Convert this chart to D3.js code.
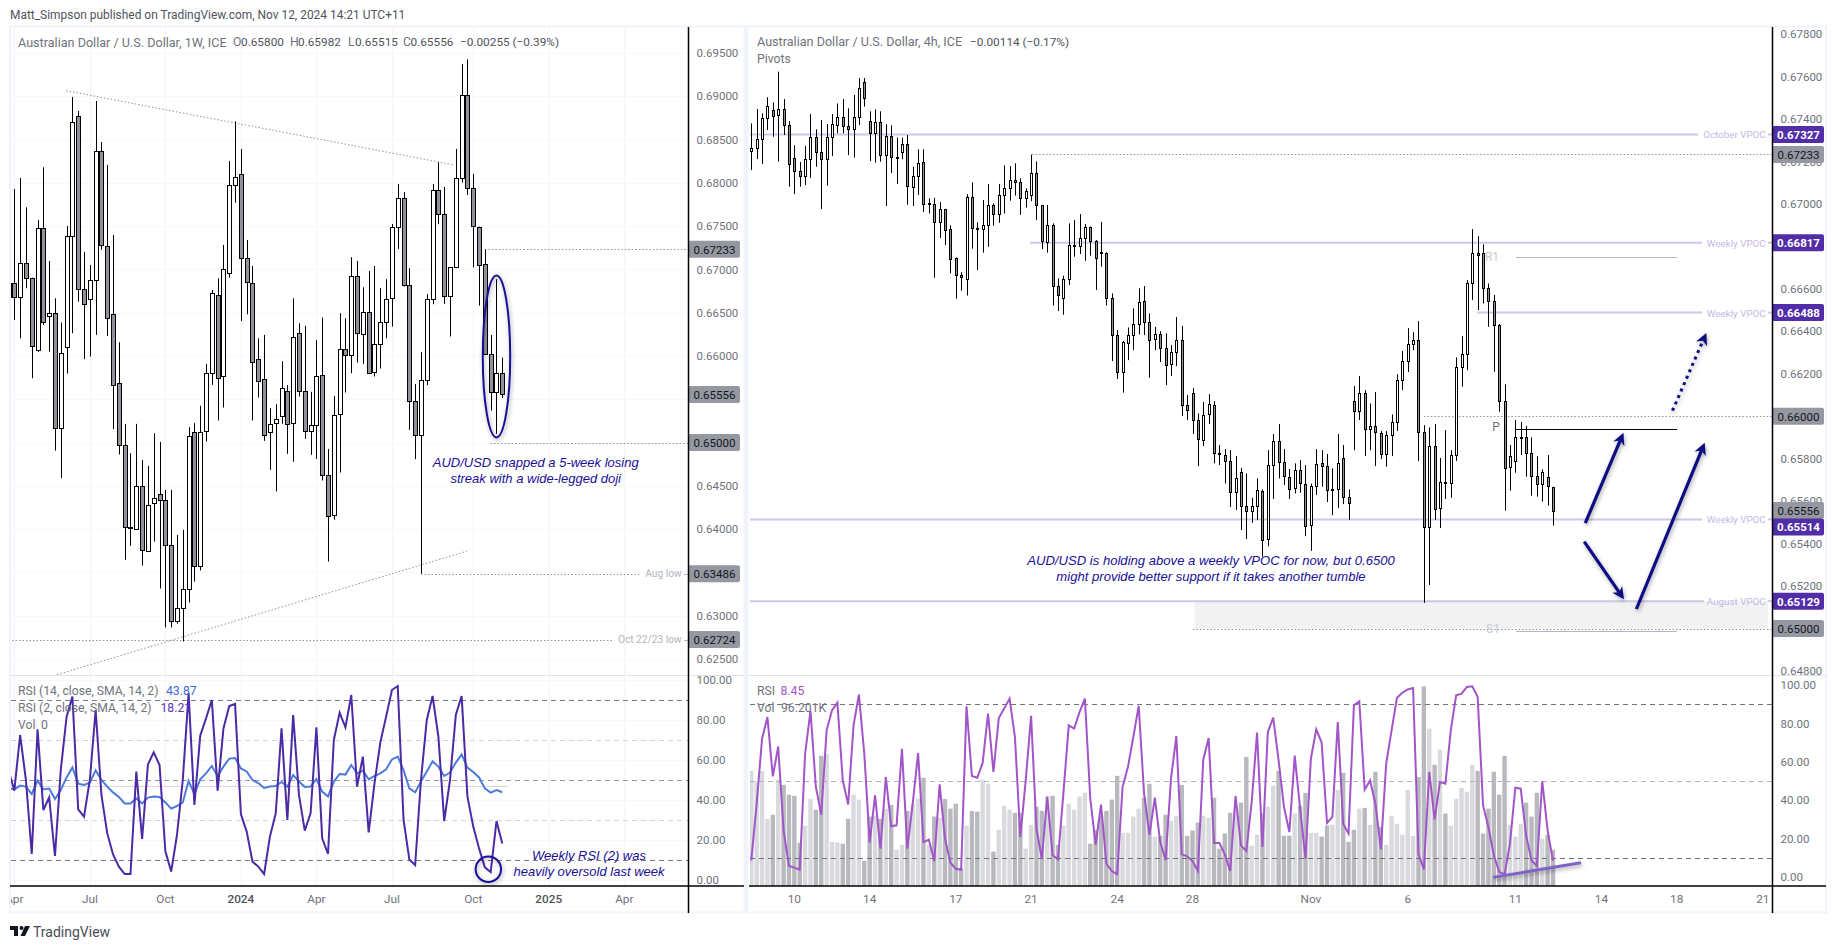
<!DOCTYPE html>
<html><head><meta charset="utf-8">
<style>html,body{margin:0;padding:0;background:#fff;overflow:hidden}svg{display:block}</style>
<script src="https://cdnjs.cloudflare.com/ajax/libs/d3/7.8.5/d3.min.js"></script>
</head><body><svg id="c" width="1838" height="949"></svg>
<script>
// ---- Weekly AUD/USD candles
const wOpen=[.66679,.66840,.66679,.67071,.66898,.66063,.67475,.66455,.66494,.65166,.66097,.67379,.68769,.66771,.66656,.66875,.68365,.67268,.66482,.65686,.64970,.64023,.64000,.64496,.63746,.64312,.64404,.64335,.63815,.62937,.63088,.63307,.65120,.63572,.65131,.65813,.66702,.65767,.66956,.67984,.68099,.67129,.66840,.65963,.65732,.65120,.65224,.65305,.65593,.65224,.66263,.65593,.65131,.65201,.65778,.64623,.64162,.65328,.66078,.66009,.66921,.66263,.66513,.65813,.66136,.66390,.66667,.67487,.67822,.66817,.65478,.65085,.65720,.66656,.67914,.67637,.66690,.67025,.68053,.69011,.67937,.67495,.67060,.66020,.65582,.65800];
const wHigh=[.66840,.67930,.68057,.67718,.66906,.67572,.68180,.67098,.66667,.66386,.67502,.68992,.68830,.67202,.67052,.68946,.68472,.68207,.67398,.66159,.65216,.64877,.65216,.64800,.64731,.65108,.65008,.64454,.64454,.63934,.63992,.65178,.65224,.65424,.65909,.66763,.66898,.67283,.68253,.68711,.68392,.67341,.67040,.66205,.66244,.65397,.65443,.65940,.65663,.66667,.66378,.66348,.65586,.66186,.66444,.64927,.65539,.66494,.66436,.67141,.67098,.66794,.66983,.67040,.66783,.66887,.67525,.67987,.67895,.67014,.65678,.66044,.66717,.67987,.68238,.67953,.67025,.68392,.69373,.69427,.68103,.67495,.67233,.66244,.66887,.65982];
const wLow=[.66444,.66417,.66205,.66783,.65743,.66047,.66359,.66051,.64908,.64589,.65797,.66263,.66629,.65963,.65994,.66244,.67225,.66232,.65155,.64862,.63646,.63807,.63992,.63580,.63738,.63857,.63315,.62864,.62864,.62907,.62703,.63153,.63395,.63523,.65012,.65666,.65255,.65405,.66906,.67772,.66405,.66482,.65255,.65520,.65020,.64685,.64435,.65216,.64870,.64777,.65532,.65043,.64858,.64812,.64562,.63626,.64108,.64654,.65578,.65801,.65924,.65909,.65797,.65763,.65855,.66205,.66340,.67237,.66802,.65147,.64808,.63486,.65663,.66598,.67522,.66602,.66225,.67014,.68003,.67860,.67025,.66582,.66020,.65370,.65101,.65515];
const wClose=[.66840,.66679,.67071,.66894,.66109,.67475,.66390,.66494,.65166,.66032,.67383,.68699,.66771,.66598,.66875,.68365,.67275,.66436,.65663,.64970,.64023,.64008,.64496,.63757,.64277,.64365,.64335,.63815,.62937,.63088,.63307,.65074,.63572,.65120,.65801,.66732,.65743,.67002,.67972,.68072,.67129,.66852,.65928,.65709,.65085,.65212,.65270,.65628,.65212,.66217,.65593,.65131,.65201,.65767,.64623,.64150,.65316,.66078,.66009,.66921,.66263,.66513,.65813,.66136,.66390,.66656,.67487,.67822,.66817,.65478,.65085,.65720,.66656,.67914,.67637,.66690,.67025,.68053,.69011,.67937,.67495,.67060,.66020,.65582,.65801,.65556];
// ---- Weekly RSI(2) and RSI(14)
const rsi2=[55,44.7,72.5,50,13,75.3,35,41.3,12,55,81.7,91.7,35.3,31.7,50,85,42.5,23.3,12.8,6.7,3,3,54.2,20.5,57.8,63.8,57.5,14.5,4.2,22.5,50,93.3,37.5,72.2,80.8,90,44.7,75.8,87,88,33,24.2,9.2,6.7,3,21.7,33.3,75.8,30,82.5,42.5,24.7,33.3,76.3,20.8,13,70,83.7,76.3,92.5,46.7,61.7,23.8,48.3,68.7,81.7,95,97,30,10.3,7.5,50,80,92,71.7,29.5,50,82.5,92,41.7,26.7,15.8,6.3,4,29.5,18.21];
const rsi14=[45.8,45.3,47.2,46.7,43,49.7,45.3,45.7,40.5,45,51.3,56.3,48.2,47.5,48.7,54.8,50,46.7,43.8,41.5,38.3,38.3,40.8,38.3,41.2,41.8,41.5,38.8,35.7,37,38.8,49.5,43,50.3,53.3,57,52,56.7,60.7,61,55.8,54.3,50,48.5,46,46.7,47,49,46.7,52.5,49.2,46.5,46.7,50.5,44.2,41.7,49.2,53,52.7,57.5,53.3,54.7,50.3,52,53.3,55.3,60.3,61.7,55,45.8,43.8,49.2,54.2,59.3,56.7,52,53.7,58.7,62.7,56.2,54,51.3,45.8,43.7,45,43.87];
const weekTickBars=[1,14,27,40,53,66,80,93,106];
const weekTickLabels=["Apr","Jul","Oct","2024","Apr","Jul","Oct","2025","Apr"];
const weekPriceTicks=[.695,.69,.685,.68,.675,.67,.665,.66,.655,.65,.645,.64,.635,.63,.625];
const weekPriceCovered=[.655,.65,.635];
const weekTags=[.67233,.65556,.65,.63486,.62724];
const rsiTicks=[0,20,40,60,80,100];

// ---- 4h AUD/USD candles
const hOpen=[.67246,.67260,.67304,.67403,.67442,.67415,.67445,.67370,.67214,.67153,.67128,.67210,.67313,.67243,.67210,.67313,.67370,.67408,.67365,.67351,.67408,.67572,.67389,.67331,.67384,.67229,.67318,.67217,.67243,.67280,.67078,.67131,.67196,.66999,.66998,.66913,.66974,.66880,.66743,.66663,.66645,.67031,.66886,.66880,.66899,.66993,.66949,.67040,.67073,.67111,.67101,.67026,.67039,.67144,.66993,.66819,.66899,.66612,.66555,.66645,.66802,.66798,.66838,.66889,.66824,.66772,.66767,.66555,.66381,.66209,.66348,.66381,.66432,.66541,.66442,.66362,.66385,.66319,.66244,.66301,.66357,.66051,.66107,.65980,.65891,.66008,.66051,.65825,.65815,.65787,.65641,.65735,.65575,.65552,.65575,.65647,.65418,.65768,.65881,.65782,.65716,.65660,.65745,.65683,.65484,.65669,.65778,.65764,.65652,.65655,.65801,.65618,.66070,.66023,.66107,.65938,.65952,.65919,.65820,.65910,.65971,.66169,.66258,.66338,.66357,.65924,.65475,.65858,.65566,.65688,.65683,.65815,.66230,.66291,.66625,.66767,.66767,.66602,.66541,.66430,.66073,.65759,.65786,.65899,.65901,.65825,.65717,.65679,.65712,.65667];
const hHigh=[.67379,.67447,.67426,.67502,.67478,.67623,.67494,.67390,.67276,.67197,.67273,.67423,.67351,.67395,.67376,.67423,.67473,.67494,.67450,.67513,.67593,.67593,.67436,.67445,.67436,.67375,.67370,.67313,.67312,.67324,.67175,.67257,.67257,.67026,.67029,.67009,.66976,.66899,.66748,.66678,.67046,.67101,.66913,.67018,.67094,.67002,.67094,.67181,.67178,.67191,.67120,.67073,.67232,.67200,.66993,.66995,.66908,.66649,.66662,.66908,.66924,.66952,.66905,.66893,.66830,.66915,.66772,.66578,.66406,.66355,.66418,.66508,.66602,.66613,.66484,.66421,.66401,.66390,.66335,.66467,.66425,.66100,.66133,.66013,.66067,.66104,.66071,.65864,.65845,.65840,.65812,.65757,.65731,.65616,.65707,.65655,.65840,.65916,.65963,.65845,.65751,.65778,.65793,.65770,.65683,.65845,.65840,.65822,.65754,.65916,.65864,.65655,.66142,.66189,.66123,.66060,.66114,.65930,.65930,.66008,.66198,.66307,.66415,.66396,.66448,.65958,.65947,.65963,.65803,.65935,.65840,.66277,.66377,.66641,.66881,.66848,.66809,.66625,.66571,.66434,.66150,.65864,.65982,.65973,.65954,.65901,.65811,.65750,.65817,.65668];
const hLow=[.67159,.67211,.67188,.67348,.67316,.67199,.67324,.67081,.67046,.67081,.67089,.67122,.67175,.66976,.67086,.67225,.67332,.67332,.67230,.67218,.67371,.67458,.67202,.67194,.67199,.66990,.67145,.67094,.67210,.66996,.66990,.67042,.66962,.66955,.66652,.66839,.66806,.66673,.66553,.66591,.66568,.66789,.66688,.66770,.66798,.66897,.66911,.66955,.67015,.67039,.66948,.66982,.67013,.66924,.66787,.66770,.66521,.66495,.66478,.66618,.66751,.66764,.66732,.66756,.66594,.66704,.66521,.66260,.66175,.66111,.66264,.66311,.66385,.66382,.66181,.66311,.66255,.66147,.66189,.66236,.66001,.65982,.65916,.65765,.65859,.65963,.65778,.65770,.65683,.65572,.65558,.65464,.65421,.65498,.65511,.65338,.65388,.65610,.65707,.65676,.65610,.65636,.65640,.65435,.65366,.65629,.65668,.65596,.65534,.65567,.65586,.65511,.65840,.65982,.65812,.65840,.65765,.65798,.65762,.65812,.65930,.66123,.66208,.66311,.65789,.65121,.65205,.65511,.65473,.65610,.65616,.65789,.66139,.66217,.66547,.66500,.66531,.66421,.66209,.66021,.65555,.65649,.65734,.65817,.65715,.65626,.65621,.65598,.65579,.65485];
const hClose=[.67262,.67304,.67403,.67459,.67415,.67445,.67368,.67186,.67153,.67128,.67210,.67313,.67243,.67210,.67313,.67375,.67408,.67364,.67351,.67408,.67544,.67497,.67331,.67384,.67229,.67318,.67219,.67220,.67280,.67083,.67131,.67191,.66998,.67002,.66913,.66974,.66875,.66739,.66663,.66654,.67031,.66883,.66883,.66899,.66993,.66951,.67040,.67073,.67111,.67101,.67026,.67059,.67144,.66992,.66824,.66899,.66612,.66569,.66645,.66805,.66805,.66838,.66889,.66824,.66742,.66767,.66555,.66381,.66209,.66348,.66384,.66432,.66536,.66442,.66357,.66385,.66319,.66239,.66301,.66357,.66051,.66027,.65980,.65891,.66008,.66056,.65825,.65822,.65787,.65640,.65707,.65575,.65552,.65575,.65651,.65418,.65768,.65881,.65782,.65716,.65660,.65745,.65683,.65484,.65669,.65773,.65764,.65651,.65655,.65778,.65618,.65589,.66023,.66107,.65938,.65952,.65924,.65820,.65910,.65971,.66169,.66258,.66338,.66357,.65924,.65475,.65858,.65561,.65688,.65685,.65815,.66230,.66291,.66625,.66767,.66757,.66602,.66539,.66428,.66073,.65759,.65811,.65901,.65904,.65825,.65717,.65679,.65736,.65670,.65556];
// ---- 4h RSI and volume (thousands)
const hRsi=[8.7,38.2,72,83.3,52.4,68,24.3,5.7,4.9,3.8,64.2,86.5,46.9,32.5,76.4,86.8,90.8,50.3,37.8,79,95,64.2,17.9,42.5,14.8,52.1,26.4,26.9,66.8,14.8,38.2,64.6,18.2,19.4,8.3,48.3,20,7.5,4.3,3.8,88.9,52.6,51.7,59.4,85.1,54.7,82.8,87.7,92.9,72.9,20.8,50.3,83.9,25.2,9.5,41.7,11.3,9.2,43.4,79,77.3,85.9,92.9,40.8,16.8,37.7,6.9,3.1,1.4,46.9,57.3,72.9,89.1,43.4,22,41.3,18.2,8.7,51.2,73.4,11.8,10.8,8.3,3.1,61.1,72.4,17.7,17.7,11.8,3.1,42.2,16.5,13.4,39.1,75.2,15.6,75.5,83,60.8,36.5,23.4,63.2,35.6,9.5,61.6,76.9,70,28.1,31.3,80.7,27.8,22.6,89.4,91.5,45.5,50.3,38.2,14.4,59,76.4,93.4,96,97.7,98.4,11.8,4,54.7,30,49.5,48.6,76.4,94.6,95.5,99,99.3,93.8,37.3,26,11.3,2.6,1.4,17.4,46.5,46,21.7,8.7,5.7,50,24.3,8.45];
const hVol=[305,276,305,178,189,282,268,242,239,115,160,231,202,345,350,117,115,112,178,242,229,67,184,186,178,205,215,96,109,199,218,231,287,109,184,181,231,205,218,48,160,199,197,282,271,91,149,213,202,194,194,99,162,210,199,239,239,109,160,218,202,237,247,112,149,186,199,229,292,141,141,184,205,234,271,131,133,189,173,186,268,133,147,168,186,181,234,99,139,194,205,221,342,107,136,193,210,266,305,133,133,192,213,247,141,141,131,160,162,255,300,117,149,205,207,162,303,157,109,186,165,136,255,133,289,529,417,321,361,192,160,231,260,250,321,305,139,205,303,242,345,162,131,165,221,184,247,125,136,96.2];
const hTickBars=[8,22,38,52,68,82,104,122,142,158,172,188];
const hTickLabels=["10","14","17","21","24","28","Nov","6","11","14","18","21"];
const hPriceTicks=[.678,.676,.674,.672,.67,.668,.666,.664,.662,.66,.658,.656,.654,.652,.65,.648];
const hPriceCovered=[.668,.66,.65];
// ---- VPOC levels, dotted levels and pivots
const vpocPrices=[.67327,.66817,.66488,.65514,.65129];
const vpocNames=["October VPOC","Weekly VPOC","Weekly VPOC","Weekly VPOC","August VPOC"];
const vpocStartBars=[-1,51.8,134.9,-1,-1];
const dottedPrices=[.67233,.66,.65];
const dottedStartBars=[52.2,125,82.1];
const pivotNames=["R1","P","S1"];
const pivotPrices=[.66752,.65938,.6499];

const svg=d3.select("#c");
const FONT="Roboto, sans-serif", ANNO="'Liberation Sans', Arial, sans-serif";
const GREY="#6f727c", NAVY="#1a0f96";
const defs=svg.append("defs");
const f=defs.append("filter").attr("id","sh").attr("x","-30%").attr("y","-30%").attr("width","160%").attr("height","160%");
f.append("feDropShadow").attr("dx",1).attr("dy",2).attr("stdDeviation",2).attr("flood-color","#000").attr("flood-opacity",.35);
function clip(id,x,y,w,h){defs.append("clipPath").attr("id",id).append("rect").attr("x",x).attr("y",y).attr("width",w).attr("height",h);}
clip("cL",11,28,677,647); clip("cLr",11,676,677,210); clip("cR",750,28,1022,647); clip("cRr",750,676,1022,210); clip("cLa",11,886,677,26);

function txt(p,x,y,s,o={}){return p.append("text").attr("x",x).attr("y",y).attr("dominant-baseline","central")
  .attr("font-family",o.ff||FONT).attr("font-size",o.fs||12).attr("fill",o.c||GREY).attr("font-weight",o.w||400)
  .attr("font-style",o.st||"normal").attr("text-anchor",o.a||"start").text(s);}
function crisp(v){return Math.round(v)+.5;}

// scales
const xW=d3.scaleLinear().domain([0,85]).range([8.5,502.3]);
const yW=d3.scaleLinear().domain([.625,.695]).range([659,53]);
const yWr=d3.scaleLinear().domain([0,100]).range([880,680]);
const xH=d3.scaleLinear().domain([0,149]).range([751.3,1553]);
const yH=d3.scaleLinear().domain([.648,.678]).range([671,34]);
const yHr=d3.scaleLinear().domain([0,100]).range([877,685]);
const yV=d3.scaleLinear().domain([0,96.2]).range([886,849.7]);

// page text + frame
txt(svg,10,15,"Matt_Simpson published on TradingView.com, Nov 12, 2024 14:21 UTC+11",{c:"#50535e",fs:11.95});
const frame=svg.append("g").attr("fill","none").attr("stroke","#f0f3fa");
frame.append("rect").attr("x",10).attr("y",26.5).attr("width",1816).attr("height",886).attr("stroke-width",2);
frame.append("line").attr("x1",746).attr("x2",746).attr("y1",27).attr("y2",913).attr("stroke-width",5);
[[10,744],[749,1826]].forEach(([a,b])=>svg.append("line").attr("x1",a).attr("x2",b).attr("y1",675.5).attr("y2",675.5).attr("stroke","#e0e3eb"));

// left gridlines
const gridL=svg.append("g").attr("stroke","#f3f4f7");
gridL.selectAll("line.v").data(weekTickBars).join("line").attr("x1",d=>crisp(xW(d))).attr("x2",d=>crisp(xW(d))).attr("y1",28).attr("y2",886);
gridL.selectAll("line.h").data(weekPriceTicks).join("line").attr("x1",11).attr("x2",688).attr("y1",d=>crisp(yW(d))).attr("y2",d=>crisp(yW(d))).attr("stroke","#f8f8fa");

function candles(g,x,y,O,H,L,C,bw){
  const I=d3.range(O.length);
  g.append("g").attr("stroke","#000").selectAll("line").data(I).join("line")
    .attr("x1",i=>crisp(x(i))).attr("x2",i=>crisp(x(i))).attr("y1",i=>y(H[i])).attr("y2",i=>y(L[i]));
  g.append("g").attr("stroke","#000").selectAll("rect").data(I).join("rect")
    .attr("x",i=>crisp(x(i))-bw/2).attr("width",bw)
    .attr("y",i=>Math.round(y(Math.max(O[i],C[i])))+.5)
    .attr("height",i=>Math.max(1,Math.round(Math.abs(y(O[i])-y(C[i])))))
    .attr("fill",i=>C[i]>=O[i]?"#fff":"#8f929b");
}

// ========== LEFT PANE ==========
const L=svg.append("g").attr("clip-path","url(#cL)");
const dot={stroke:"#8f929b","stroke-dasharray":"1.5 2","stroke-width":1};
function styl(s,o){Object.entries(o).forEach(([k,v])=>s.attr(k,v));return s;}
// trend lines (bar index, price)
const trendTop=[[9.9,.69065],[76.7,.68207]], trendLow=[[8.35,.62318],[78.9,.63746]];
[trendTop,trendLow].forEach(t=>styl(L.append("line").attr("x1",xW(t[0][0])).attr("y1",yW(t[0][1])).attr("x2",xW(t[1][0])).attr("y2",yW(t[1][1])),dot));
// dotted levels
[[82,.67233,688],[83,.65,688],[71,.63486,641],[0,.62724,614]].forEach(([b,p,e])=>
  styl(L.append("line").attr("x1",xW(b)).attr("x2",e).attr("y1",crisp(yW(p))).attr("y2",crisp(yW(p))),dot));
candles(L,xW,yW,wOpen,wHigh,wLow,wClose,4);
txt(L,681.7,yW(.63486),"Aug low",{a:"end",c:"#b2b5be",fs:10.2});
txt(L,681.7,yW(.62724),"Oct 22/23 low",{a:"end",c:"#b2b5be",fs:10.2});
[.63486,.62724].forEach(p=>L.append("line").attr("x1",684).attr("x2",688).attr("y1",crisp(yW(p))).attr("y2",crisp(yW(p))).attr("stroke","#b2b5be"));
// ellipse
const eX=84, eP=.65995, eRb=2.36, eRp=.00935;
L.append("ellipse").attr("cx",xW(eX)).attr("cy",yW(eP)).attr("rx",xW(eRb)-xW(0)).attr("ry",yW(eP-eRp)-yW(eP))
  .attr("fill","none").attr("stroke",NAVY).attr("stroke-width",2).attr("filter","url(#sh)");
txt(L,535.7,462.5,"AUD/USD snapped a 5-week losing",{ff:ANNO,st:"italic",c:NAVY,fs:13,a:"middle"});
txt(L,535.7,478.5,"streak with a wide-legged doji",{ff:ANNO,st:"italic",c:NAVY,fs:13,a:"middle"});
// legend
txt(svg,18,42,"Australian Dollar / U.S. Dollar, 1W, ICE",{fs:12.6});
[[233,"O"],[290,"H"],[348,"L"],[403,"C"]].forEach(([x,s])=>txt(svg,x,42,s,{fs:12.2}));
[[241,"0.65800"],[298,"0.65982"],[355,"0.65515"],[410.5,"0.65556"],[460,"−0.00255 (−0.39%)"]].forEach(([x,s])=>txt(svg,x,42,s,{fs:11.8,c:"#50535e"}));

// left RSI pane
const LR=svg.append("g").attr("clip-path","url(#cLr)");
function levels(g,y,vals,cols,a,b){g.selectAll("line.l").data(vals).join("line").attr("x1",a).attr("x2",b)
  .attr("y1",d=>crisp(y(d))).attr("y2",d=>crisp(y(d))).attr("stroke",(d,i)=>cols[i]).attr("stroke-dasharray","5 4");}
gridL.selectAll("line.r").data(rsiTicks).join("line").attr("x1",11).attr("x2",688).attr("y1",d=>crisp(yWr(d))).attr("y2",d=>crisp(yWr(d))).attr("stroke","#f8f8fa");
levels(LR.append("g"),yWr,[90,70,50,30,10],["#787b86","#d1d4dc","#9598a1","#d1d4dc","#787b86"],11,688);
const rsiFlat=46.8;
LR.append("line").attr("x1",11).attr("x2",xW(86)).attr("y1",yWr(rsiFlat)).attr("y2",yWr(rsiFlat)).attr("stroke","#d4d5da");
const lineW=d3.line().x((d,i)=>xW(i)).y(d=>yWr(d));
LR.append("path").attr("d",lineW(rsi14)).attr("fill","none").attr("stroke","#4d7bdc").attr("stroke-width",2);
LR.append("path").attr("d",lineW(rsi2)).attr("fill","none").attr("stroke","#4a2ba5").attr("stroke-width",2);
LR.append("circle").attr("cx",xW(82.6)).attr("cy",yWr(5.35)).attr("r",12.7).attr("fill","none").attr("stroke",NAVY).attr("stroke-width",2).attr("filter","url(#sh)");
txt(LR,589,855,"Weekly RSI (2) was",{ff:ANNO,st:"italic",c:NAVY,fs:13,a:"middle"});
txt(LR,589,871.5,"heavily oversold last week",{ff:ANNO,st:"italic",c:NAVY,fs:13,a:"middle"});
txt(svg,18,690.7,"RSI (14, close, SMA, 14, 2)",{fs:12.2});
txt(svg,166,690.7,"43.87",{fs:12.2,c:"#3b68d9"});
txt(svg,18,708,"RSI (2, close, SMA, 14, 2)",{fs:12.2});
txt(svg,160.5,708,"18.21",{fs:12.2,c:"#5e35b1"});
txt(svg,18,725,"Vol",{fs:12.2}); txt(svg,41,725,"0",{fs:12.2});

// ========== RIGHT PANE ==========
const R=svg.append("g").attr("clip-path","url(#cR)");
R.append("rect").attr("x",xH(82.4)).attr("width",1768-xH(82.4)).attr("y",yH(.65129)).attr("height",yH(.65)-yH(.65129)).attr("fill","#f2f2f2");
vpocPrices.forEach((p,i)=>{
  R.append("line").attr("x1",xH(vpocStartBars[i])).attr("x2",i==0?1698:(i==4?1704:1702)).attr("y1",yH(p)).attr("y2",yH(p)).attr("stroke","#d1c4e9").attr("stroke-width",2);
  txt(R,1765.7,yH(p)+.5,vpocNames[i],{a:"end",c:"#c5b8e6",fs:9.8});
  R.append("line").attr("x1",1768).attr("x2",1772).attr("y1",yH(p)).attr("y2",yH(p)).attr("stroke","#d1c4e9").attr("stroke-width",2);
});
dottedPrices.forEach((p,i)=>styl(R.append("line").attr("x1",xH(dottedStartBars[i])).attr("x2",1772).attr("y1",crisp(yH(p))).attr("y2",crisp(yH(p))),dot));
// pivots
const pivotCols=["#b2b5be","#000","#b2b5be"], pivotText=["#c8cad0","#6f727c","#c8cad0"], pivotX=[1492,1496,1493];
pivotPrices.forEach((p,i)=>R.append("line").attr("x1",1516).attr("x2",1677).attr("y1",crisp(yH(p))).attr("y2",crisp(yH(p))).attr("stroke",pivotCols[i]));
candles(R,xH,yH,hOpen,hHigh,hLow,hClose,2);
pivotPrices.forEach((p,i)=>txt(R,pivotX[i],yH(p)+(i==0?0:-2),pivotNames[i],{a:"middle",c:pivotText[i],fs:12}));
txt(R,1211,560,"AUD/USD is holding above a weekly VPOC for now, but 0.6500",{ff:ANNO,st:"italic",c:NAVY,fs:13.1,a:"middle"});
txt(R,1211,576.7,"might provide better support if it takes another tumble",{ff:ANNO,st:"italic",c:NAVY,fs:13.1,a:"middle"});
// arrows: bar index, price
const ARW="#0c0a82";
function arrow(g,b1,p1,b2,p2,dash){
  const x1=xH(b1),y1=yH(p1),x2=xH(b2),y2=yH(p2),a=Math.atan2(y2-y1,x2-x1),h=12,w=6;
  const s=g.append("g").attr("filter","url(#sh)");
  const ex=x2-Math.cos(a)*h*.6, ey=y2-Math.sin(a)*h*.6;
  const ln=s.append("line").attr("x1",x1).attr("y1",y1).attr("x2",ex).attr("y2",ey).attr("stroke",ARW).attr("stroke-width",dash?3:3.2);
  if(dash)ln.attr("stroke-dasharray","3 4");
  const bx=x2-Math.cos(a)*h, by=y2-Math.sin(a)*h, nx=-Math.sin(a)*w, ny=Math.cos(a)*w;
  s.append("path").attr("d",`M${x2},${y2}L${bx+nx},${by+ny}L${x2-Math.cos(a)*h*.7},${y2-Math.sin(a)*h*.7}L${bx-nx},${by-ny}Z`).attr("fill",ARW);
}
arrow(R,155,.65497,162.1,.65922);
arrow(R,154.8,.65409,162.2,.65138);
arrow(R,164.5,.65092,177.2,.65875);
arrow(R,171.2,.66026,177.5,.66392,true);
// legend
txt(svg,757,41.7,"Australian Dollar / U.S. Dollar, 4h, ICE",{fs:12.6});
txt(svg,970,41.7,"−0.00114 (−0.17%)",{fs:11.8,c:"#50535e"});
txt(svg,757,59,"Pivots",{fs:12.2});

// right RSI pane
const RR=svg.append("g").attr("clip-path","url(#cRr)");
RR.append("g").selectAll("rect").data(hVol).join("rect").attr("x",(d,i)=>xH(i)-2.2).attr("width",4.4)
  .attr("y",d=>yV(d)).attr("height",d=>886-yV(d)).attr("fill",(d,i)=>hClose[i]>=hOpen[i]?"#d9dadd":"#b8b9be");
levels(RR.append("g"),yHr,[90,50,10],["#6f727c","#b2b5be","#6f727c"],750,1772);
const lineH=d3.line().x((d,i)=>xH(i)).y(d=>yHr(d));
RR.append("path").attr("d",lineH(hRsi)).attr("fill","none").attr("stroke","#a155c9").attr("stroke-width",2);
const tSup=[[137.9,-.2],[154.2,7.4]];
RR.append("line").attr("x1",xH(tSup[0][0])).attr("y1",yHr(tSup[0][1])).attr("x2",xH(tSup[1][0])).attr("y2",yHr(tSup[1][1]))
  .attr("stroke","#7e63c4").attr("stroke-width",3).attr("filter","url(#sh)");
txt(svg,757,691,"RSI",{fs:12.2}); txt(svg,780.5,691,"8.45",{fs:12.2,c:"#a155c9"});
txt(svg,757,708,"Vol",{fs:12.2}); txt(svg,781,708,"96.201K",{fs:12.2});

// ========== AXES ==========
function priceAxis(y,ticks,x0,fmt){
  const g=svg.append("g").attr("transform",`translate(${x0},0)`).call(d3.axisRight(y).tickValues(ticks).tickFormat(fmt).tickSize(0).tickPadding(8));
  g.select(".domain").remove();
  g.selectAll("text").attr("font-family",FONT).attr("font-size",11.5).attr("fill",GREY);
}
priceAxis(yW,weekPriceTicks.filter(t=>!weekPriceCovered.includes(t)),688.5,d3.format(".5f"));
priceAxis(yH,hPriceTicks.filter(t=>!hPriceCovered.includes(t)),1772.5,d3.format(".5f"));
priceAxis(yWr,rsiTicks,688.5,d3.format(".2f"));
priceAxis(yHr,rsiTicks,1772.5,d3.format(".2f"));

function tag(x,y,v,purple){
  const g=svg.append("g");
  g.append("path").attr("d",`M${x},${y-8.5}h49a2,2 0 0 1 2,2v13a2,2 0 0 1 -2,2h-49z`).attr("fill",purple?"#512da8":"#9598a1");
  txt(g,x+25.5,y+.5,d3.format(".5f")(v),{a:"middle",c:purple?"#fff":"#131722",fs:11.5,w:purple?700:400});
}
weekTags.forEach(p=>tag(689,yW(p),p,false));
[[.67233,0],[.66,0],[.65556,0],[.65,0]].forEach(([p,d])=>tag(1773,yH(p)+d,p,false));
[[.67327,0],[.66817,0],[.66488,0],[.65514,7.5],[.65129,0]].forEach(([p,d])=>tag(1773,yH(p)+d,p,true));

// time axes
const ax=svg.append("g").attr("stroke","#000").attr("stroke-width",1.5);
[[10,744,886,886],[749,1826,886,886],[688.5,688.5,27,913],[1772.5,1772.5,27,913]].forEach(([a,b,c,d])=>ax.append("line").attr("x1",a).attr("x2",b).attr("y1",c).attr("y2",d));
const tW=svg.append("g").attr("clip-path","url(#cLa)");
weekTickBars.forEach((b,i)=>txt(tW,xW(b),899,weekTickLabels[i],{a:"middle",fs:11.8,c:/^\d/.test(weekTickLabels[i])?"#50535e":GREY,w:/^\d/.test(weekTickLabels[i])?500:400}));
hTickBars.forEach((b,i)=>txt(svg,xH(b),899,hTickLabels[i],{a:"middle",fs:11.8}));

// logo
const lo=svg.append("g").attr("transform","translate(10,926)").attr("fill","#131722");
lo.append("path").attr("d","M0 0H8V10H4V4H0Z");
lo.append("circle").attr("cx",11.5).attr("cy",2).attr("r",2);
lo.append("path").attr("d","M15 0H20L15 10H10.5Z");
txt(svg,33,931.5,"TradingView",{fs:14,c:"#4a4d57"});
</script></body></html>
